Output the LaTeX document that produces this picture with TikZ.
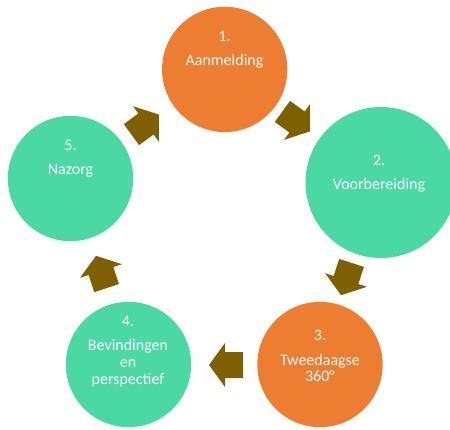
\documentclass[tikz,border=0pt]{standalone}
\usepackage{fontspec}
\setmainfont{Carlito}
\definecolor{orng}{HTML}{ED7D31}
\definecolor{grn}{HTML}{4AD8A5}
\definecolor{arrowc}{HTML}{7F6000}
\begin{document}
\begin{tikzpicture}[x=0.75pt,y=-0.75pt,
  bubble/.style={circle,inner sep=0pt,minimum size=94pt},
  orangebubble/.style={bubble,fill=orng},
  greenbubble/.style={bubble,fill=grn},
  lbl/.style={anchor=base,inner sep=0pt,text=white,font=\fontsize{12pt}{13pt}\selectfont},
  blockarrow/.pic={\fill[arrowc] (-18,-13) -- (0,-13) -- (0,-22) -- (16,0) -- (0,22) -- (0,13) -- (-18,13) -- cycle;}
]
\useasboundingbox (0,0) rectangle (450,429);
% circles
\node[orangebubble] (c1) at (224.7,69.4) {};
\node[greenbubble,minimum size=113.25pt] (c2) at (381,182.5) {};
\node[orangebubble] (c3) at (320,364.5) {};
\node[greenbubble] (c4) at (128.5,364.5) {};
\node[greenbubble] (c5) at (70.5,178.5) {};
% arrows
\pic[rotate=-36] (a12) at (297,122) {blockarrow};
\pic[rotate=-108] (a23) at (346,280) {blockarrow};
\pic[rotate=180] (a34) at (225,365) {blockarrow};
\pic[rotate=108] (a45) at (101,271) {blockarrow};
\pic[rotate=36] (a51) at (146,124) {blockarrow};
% labels
\node[lbl] (t1a) at (224.5,41.7) {1.};
\node[lbl] (t1b) at (224.5,65) {Aanmelding};
\node[lbl] (t2a) at (379,165) {2.};
\node[lbl] (t2b) at (379,189) {Voorbereiding};
\node[lbl] (t3a) at (320,340) {3.};
\node[lbl] (t3b) at (320,365) {Tweedaagse};
\node[lbl] (t3c) at (320,381.7) {360°};
\node[lbl] (t4a) at (128,326) {4.};
\node[lbl] (t4b) at (128,350) {Bevindingen};
\node[lbl] (t4c) at (128,367) {en};
\node[lbl] (t4d) at (128,384) {perspectief};
\node[lbl] (t5a) at (70.5,150.7) {5.};
\node[lbl] (t5b) at (70.5,174) {Nazorg};
\end{tikzpicture}
\end{document}
